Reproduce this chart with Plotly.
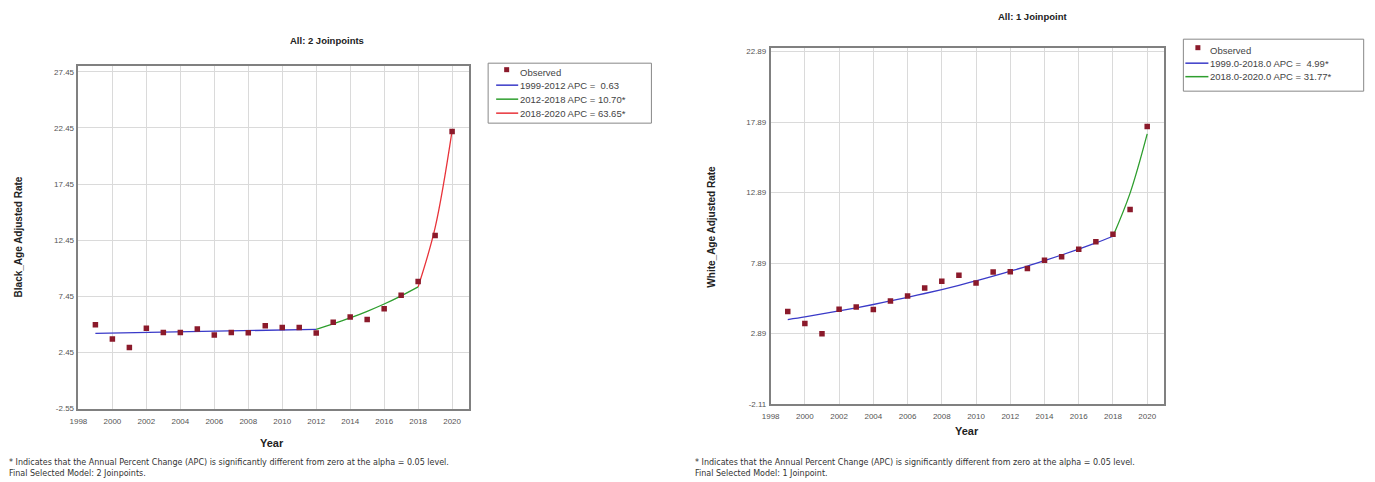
import plotly.graph_objects as go

years = list(range(1999, 2021))

# Left chart (Black)
black_obs = [4.91, 3.65, 2.89, 4.61, 4.23, 4.23, 4.53, 4.00, 4.23, 4.20, 4.82, 4.67,
             4.67, 4.18, 5.14, 5.61, 5.37, 6.34, 7.54, 8.77, 12.86, 22.13]
black_seg1_years = list(range(1999, 2013))
black_seg1 = [4.15, 4.18, 4.20, 4.23, 4.26, 4.28, 4.31, 4.34, 4.36, 4.39, 4.42, 4.45, 4.48, 4.50]
black_seg2_years = list(range(2012, 2019))
black_seg2 = [4.50, 4.99, 5.52, 6.11, 6.76, 7.49, 8.29]
black_seg3_years = [2018, 2019, 2020]
black_seg3 = [8.29, 13.56, 22.20]
black_labels = ["1999-2012 APC =  0.63", "2012-2018 APC = 10.70*", "2018-2020 APC = 63.65*"]
black_yticks = [-2.55, 2.45, 7.45, 12.45, 17.45, 22.45, 27.45]

# Right chart (White)
white_obs = [4.45, 3.60, 2.87, 4.61, 4.78, 4.59, 5.20, 5.56, 6.12, 6.59, 7.02, 6.47,
             7.25, 7.28, 7.51, 8.08, 8.34, 8.86, 9.40, 9.94, 11.69, 17.58]
white_seg1_years = list(range(1999, 2019))
white_seg1 = [3.88, 4.07, 4.28, 4.49, 4.71, 4.95, 5.20, 5.46, 5.73, 6.01, 6.31, 6.63,
              6.96, 7.31, 7.67, 8.06, 8.46, 8.88, 9.32, 9.79]
white_seg2_years = [2018, 2019, 2020]
white_seg2 = [9.79, 12.85, 17.05]
white_labels = ["1999.0-2018.0 APC =  4.99*", "2018.0-2020.0 APC = 31.77*"]
white_yticks = [-2.11, 2.89, 7.89, 12.89, 17.89, 22.89]

x_ticks = list(range(1998, 2021, 2))

MARK = "#8B1A2B"
BLUE = "#3A3AC8"
GREEN = "#2E9E2E"
RED = "#E8333A"
FONT = "Liberation Sans"


def PX(x):
    return (x - 18.7) / 0.9917 / 1375


def PY(y):
    return 1 - (y - 8.8) / 0.988 / 482


fig = go.Figure()

# Left chart traces
fig.add_trace(go.Scatter(x=black_seg1_years, y=black_seg1, mode="lines", line=dict(color=BLUE, width=1.3),
                         name=black_labels[0], xaxis="x", yaxis="y"))
fig.add_trace(go.Scatter(x=black_seg2_years, y=black_seg2, mode="lines", line=dict(color=GREEN, width=1.3, shape="spline"),
                         name=black_labels[1], xaxis="x", yaxis="y"))
fig.add_trace(go.Scatter(x=black_seg3_years, y=black_seg3, mode="lines", line=dict(color=RED, width=1.3, shape="spline"),
                         name=black_labels[2], xaxis="x", yaxis="y"))
fig.add_trace(go.Scatter(x=years, y=black_obs, mode="markers", marker=dict(symbol="square", size=5.5, color=MARK),
                         name="Observed", xaxis="x", yaxis="y"))

# Right chart traces
fig.add_trace(go.Scatter(x=white_seg1_years, y=white_seg1, mode="lines", line=dict(color=BLUE, width=1.3, shape="spline"),
                         name=white_labels[0], xaxis="x2", yaxis="y2"))
fig.add_trace(go.Scatter(x=white_seg2_years, y=white_seg2, mode="lines", line=dict(color=GREEN, width=1.3, shape="spline"),
                         name=white_labels[1], xaxis="x2", yaxis="y2"))
fig.add_trace(go.Scatter(x=years, y=white_obs, mode="markers", marker=dict(symbol="square", size=5.5, color=MARK),
                         name="Observed", xaxis="x2", yaxis="y2"))

axis_common = dict(showgrid=True, gridcolor="#DADADA", gridwidth=1, zeroline=False,
                   showline=True, linecolor="#808080", linewidth=1.5, mirror=True,
                   ticks="", tickfont=dict(family=FONT, size=8, color="#555555"))

fig.update_layout(
    width=1375, height=482,
    margin=dict(l=0, r=0, t=0, b=0),
    paper_bgcolor="white", plot_bgcolor="white",
    font=dict(family=FONT, size=8, color="#333333"),
    showlegend=False,
    xaxis=dict(domain=[max(0, PX(80)), PX(470)], range=[1998, 2021], tickvals=x_ticks, ticklabelstandoff=4,
               ticktext=[str(v) for v in x_ticks], anchor="y", **axis_common),
    yaxis=dict(domain=[PY(408.5), PY(66)], range=[-2.55, 27.95], tickvals=black_yticks, ticklabelstandoff=1,
               ticktext=[f"{v:.2f}" for v in black_yticks], anchor="x", **axis_common),
    xaxis2=dict(domain=[PX(771), PX(1164)], range=[1998, 2021], tickvals=x_ticks, ticklabelstandoff=4,
                ticktext=[str(v) for v in x_ticks], anchor="y2", **axis_common),
    yaxis2=dict(domain=[PY(404), PY(48)], range=[-2.11, 23.13], tickvals=white_yticks, ticklabelstandoff=1,
                ticktext=[f"{v:.2f}" for v in white_yticks], anchor="x2", **axis_common),
)

ann = []
shapes = []


def text(t, x, y, size, xanchor="center", angle=0, color="#222222", family=FONT):
    ann.append(dict(text=t, x=PX(x), y=PY(y), xref="paper", yref="paper", xanchor=xanchor,
                    yanchor="middle", showarrow=False, textangle=angle, align="left",
                    font=dict(family=family, size=size, color=color)))


text("<b>All: 2 Joinpoints</b>", 328, 40, 9.5)
text("<b>All: 1 Joinpoint</b>", 1032, 16, 9.5)
text("<b>Black_Age Adjusted Rate</b>", 20, 237, 10, angle=-90)
text("<b>White_Age Adjusted Rate</b>", 712, 227, 10, angle=-90)
text("<b>Year</b>", 273, 443, 11)
text("<b>Year</b>", 967, 431, 11)

foot = "* Indicates that the Annual Percent Change (APC) is significantly different from zero at the alpha = 0.05 level."
FOOTFONT = "DejaVu Sans"
text(foot, 9, 463, 8, xanchor="left", color="#333333", family=FOOTFONT)
text("Final Selected Model: 2 Joinpoints.", 9, 474, 8, xanchor="left", color="#333333", family=FOOTFONT)
text(foot, 694, 463, 8, xanchor="left", color="#333333", family=FOOTFONT)
text("Final Selected Model: 1 Joinpoint.", 694, 474, 8, xanchor="left", color="#333333", family=FOOTFONT)


def legend_box(x0, y0, x1, y1, rows, line_x0, line_x1, text_x, marker_x):
    shapes.append(dict(type="rect", xref="paper", yref="paper", x0=PX(x0), x1=PX(x1), y0=PY(y0), y1=PY(y1),
                       line=dict(color="#888888", width=1), fillcolor="white", layer="above"))
    for label, color, y in rows:
        if color is None:
            shapes.append(dict(type="rect", xref="paper", yref="paper",
                               x0=PX(marker_x - 2.5), x1=PX(marker_x + 2.5), y0=PY(y), y1=PY(y - 5),
                               line=dict(width=0), fillcolor=MARK, layer="above"))
        else:
            shapes.append(dict(type="line", xref="paper", yref="paper", x0=PX(line_x0), x1=PX(line_x1),
                               y0=PY(y), y1=PY(y), line=dict(color=color, width=1.5), layer="above"))
        text(label, text_x, y, 9.5, xanchor="left", color="#444444")


legend_box(489, 63, 652, 123,
           [("Observed", None, 72), (black_labels[0], BLUE, 85),
            (black_labels[1], GREEN, 99), (black_labels[2], RED, 113)],
           497, 519, 519, 507.5)
legend_box(1183, 39, 1363, 91,
           [("Observed", None, 50), (white_labels[0], BLUE, 63), (white_labels[1], GREEN, 76.5)],
           1185, 1208, 1208, 1197.5)

fig.update_layout(annotations=ann, shapes=shapes)

fig.write_html("out.html")
